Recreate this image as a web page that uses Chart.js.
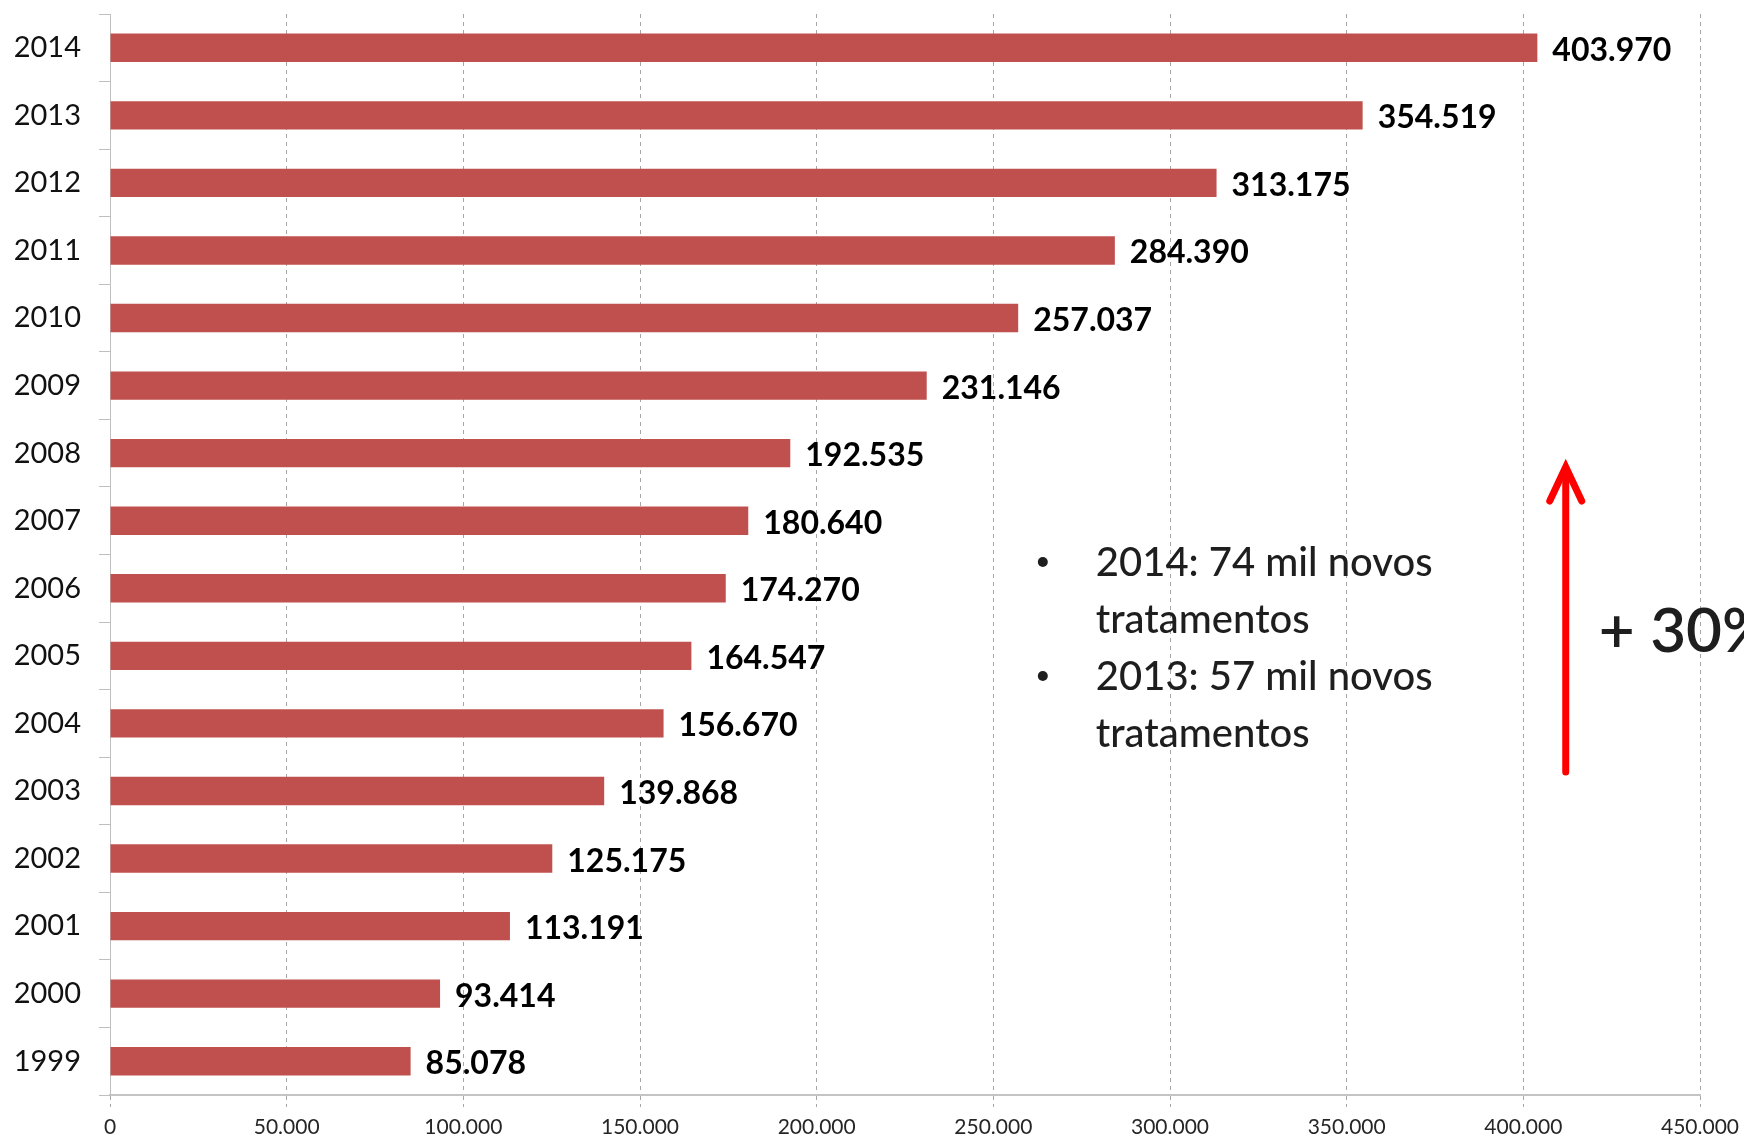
<!DOCTYPE html>
<html>
<head>
<meta charset="utf-8">
<script src="https://cdn.jsdelivr.net/npm/chart.js@4.4.1/dist/chart.umd.min.js"></script>
<style>
  html, body { margin: 0; padding: 0; background: #fff; }
  #wrap { width: 1744px; height: 1138px; }
</style>
</head>
<body>
<div id="wrap"><canvas id="barChart" width="1744" height="1138"></canvas></div>
<script>
// Data
const years = ["1999", "2000", "2001", "2002", "2003", "2004", "2005", "2006",
               "2007", "2008", "2009", "2010", "2011", "2012", "2013", "2014"];
const treatments = [85078, 93414, 113191, 125175, 139868, 156670, 164547, 174270,
                    180640, 192535, 231146, 257037, 284390, 313175, 354519, 403970];
const xTicks = [0, 50000, 100000, 150000, 200000, 250000, 300000, 350000, 400000, 450000];
const notes = [["2014: 74 mil novos", "tratamentos"], ["2013: 57 mil novos", "tratamentos"]];
const growthLabel = "+ 30%";

// 403970 -> "403.970"
function formatBR(n) {
    return String(n).replace(/\B(?=(\d{3})+(?!\d))/g, ".");
}

// Bold value at the end of each bar
const valueLabels = {
    id: "valueLabels",
    afterDatasetsDraw(chart) {
        const ctx = chart.ctx;
        const meta = chart.getDatasetMeta(0);
        ctx.save();
        ctx.font = "bold 32px Lato";
        ctx.fillStyle = "#000";
        ctx.textBaseline = "alphabetic";
        meta.data.forEach((bar, i) => {
            ctx.fillText(formatBR(treatments[i]), bar.x + 15, bar.y + 13);
        });
        ctx.restore();
    }
};

// Bullet notes, red arrow and growth text
const notesPlugin = {
    id: "notesPlugin",
    afterDraw(chart) {
        const ctx = chart.ctx;
        const x = chart.scales.x;
        const bulletX = x.getPixelForValue(264000);
        const textX = x.getPixelForValue(279000);
        ctx.save();
        ctx.fillStyle = "#1e1e1e";
        ctx.font = "500 40px Lato";
        ctx.textBaseline = "alphabetic";
        let baseY = 576;
        notes.forEach((note) => {
            ctx.beginPath();
            ctx.arc(bulletX, baseY - 14, 5, 0, Math.PI * 2);
            ctx.fill();
            note.forEach((line) => {
                ctx.fillText(line, textX, baseY);
                baseY += 57;
            });
        });

        // arrow
        const ax = x.getPixelForValue(412000);
        ctx.strokeStyle = "#ff0000";
        ctx.lineWidth = 7;
        ctx.lineCap = "round";
        ctx.beginPath();
        ctx.moveTo(ax, 772);
        ctx.lineTo(ax, 470);
        ctx.stroke();
        ctx.beginPath();
        ctx.moveTo(ax - 16, 501);
        ctx.lineTo(ax, 467);
        ctx.lineTo(ax + 16, 501);
        ctx.stroke();

        ctx.font = "600 62px Lato";
        ctx.fillText(growthLabel, ax + 33, 652);
        ctx.restore();
    }
};

const ctx = document.getElementById("barChart").getContext("2d");
const barChart = new Chart(ctx, {
    type: "bar",
    data: {
        labels: years,
        datasets: [
            {
                label: "Tratamentos",
                data: treatments,
                backgroundColor: "#C0504D",
                categoryPercentage: 1,
                barPercentage: 0.42,
            },
        ],
    },
    options: {
        indexAxis: "y",
        responsive: false,
        animation: false,
        layout: {
            padding: { top: 14, right: 44, left: 0, bottom: 0 },
        },
        plugins: {
            legend: { display: false },
            tooltip: { enabled: false },
        },
        scales: {
            x: {
                min: 0,
                max: 450000,
                afterBuildTicks: (scale) => {
                    scale.ticks = xTicks.map((v) => ({ value: v }));
                },
                afterFit: (scale) => {
                    scale.height = 43;
                    scale.paddingLeft = 0;
                    scale.paddingRight = 0;
                },
                ticks: {
                    callback: (v) => formatBR(v),
                    font: { family: "Lato", size: 21 },
                    color: "#262626",
                    padding: 8,
                    maxRotation: 0,
                },
                grid: {
                    color: "#a6a6a6",
                    lineWidth: 1,
                    tickLength: 12,
                    tickBorderDash: [4, 4],
                },
                border: {
                    color: "#c4c4c4",
                    width: 2,
                    dash: [4, 4],
                },
            },
            y: {
                reverse: true,
                afterFit: (scale) => {
                    scale.width = 110;
                    scale.paddingTop = 0;
                    scale.paddingBottom = 0;
                },
                ticks: {
                    font: { family: "Lato", size: 29 },
                    color: "#111",
                    padding: 18,
                },
                grid: {
                    offset: true,
                    drawOnChartArea: false,
                    color: "#bfbfbf",
                    tickLength: 11,
                },
                border: {
                    color: "#bfbfbf",
                    width: 1,
                },
            },
        },
    },
    plugins: [valueLabels, notesPlugin],
});
</script>
</body>
</html>
